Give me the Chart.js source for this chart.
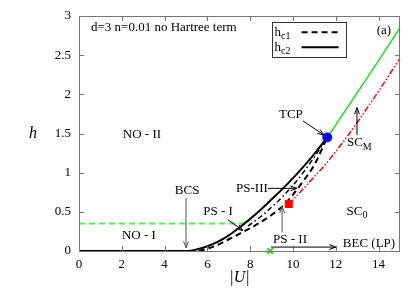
<!DOCTYPE html>
<html>
<head>
<meta charset="utf-8">
<script src="https://cdn.jsdelivr.net/npm/chart.js@4"></script>
<style>
  html, body { margin: 0; padding: 0; background: #fff; }
  #wrap { width: 415px; height: 291px; }
</style>
</head>
<body>
<div id="wrap"><canvas id="phase" width="415" height="291"></canvas></div>
<script>
// tick values
const xTicks = [0, 2, 4, 6, 8, 10, 12, 14];
const yTicks = [0, 0.5, 1, 1.5, 2, 2.5, 3];
const yTickLabels = ['0', '0.5', '1', '1.5', '2', '2.5', '3'];

// hc2 (solid black)
const hc2U = [0, 5.0, 5.5, 6.0, 6.5, 7.0, 7.5, 8.0, 8.5, 9.0, 9.5, 10.0, 10.5, 11.0, 11.6];
const hc2H = [0, 0, 0.02, 0.06, 0.12, 0.2, 0.3, 0.41, 0.53, 0.66, 0.79, 0.93, 1.08, 1.24, 1.45];

// hc1 (dashed black)
const hc1U = [5.6, 6.0, 6.5, 7.0, 7.5, 8.0, 8.5, 9.0, 9.5, 10.0, 10.5, 11.0, 11.6];
const hc1H = [0, 0.03, 0.08, 0.15, 0.22, 0.29, 0.37, 0.46, 0.57, 0.72, 0.9, 1.1, 1.45];

// dash-dot black line between hc1 and hc2
const ddU = [7.9, 8.5, 9.0, 9.5, 10.0, 10.5, 11.0, 11.6];
const ddH = [0.32, 0.44, 0.56, 0.69, 0.84, 1.01, 1.2, 1.45];

// red dash-dot-dot line (SC_M boundary)
const redU = [9.8, 10.5, 11.0, 11.5, 12.0, 12.5, 13.0, 13.5, 14.0, 14.5, 15.0];
const redH = [0.6, 0.8, 0.95, 1.1, 1.27, 1.45, 1.64, 1.84, 2.04, 2.25, 2.46];

// green solid line above TCP
const greenU = [11.6, 12.0, 13.0, 14.0, 15.0];
const greenH = [1.45, 1.61, 2.02, 2.43, 2.85];

// green dashed horizontal
const gDashU = [0, 8.0];
const gDashH = [0.35, 0.35];

// special points
const tcp = [11.6, 1.45];
const redPoint = [9.8, 0.6];
const becPoint = [8.93, 0];

const pts = (xs, ys) => xs.map((x, i) => ({ x: x, y: ys[i] }));

const SERIF = '"Liberation Serif", "DejaVu Serif", serif';
const FS = 13;

// text labels and arrows in data units
const labels = [
  { t: 'd=3 n=0.01 no Hartree term', x: 0.56, y: 2.85, align: 'left' },
  { t: 'NO - II', x: 2.94, y: 1.49 },
  { t: 'NO - I', x: 2.8, y: 0.2 },
  { t: 'BCS', x: 5.05, y: 0.77 },
  { t: 'PS - I', x: 6.5, y: 0.5 },
  { t: 'PS-III', x: 8.08, y: 0.8 },
  { t: 'PS - II', x: 9.86, y: 0.15 },
  { t: 'TCP', x: 9.9, y: 1.74 },
  { t: 'BEC (LP)', x: 13.55, y: 0.09 },
  { t: '(a)', x: 14.25, y: 2.82 }
];
const subLabels = [
  { t: 'SC', s: 'M', x: 13.1, y: 1.38 },
  { t: 'SC', s: '0', x: 12.99, y: 0.5 }
];
const arrows = [
  { x1: 5.0, y1: 0.68, x2: 5.0, y2: 0.04, c: '#555' },
  { x1: 6.96, y1: 0.4, x2: 7.66, y2: 0.26, c: '#000' },
  { x1: 8.83, y1: 0.8, x2: 10.19, y2: 0.8, c: '#000' },
  { x1: 9.49, y1: 0.24, x2: 9.49, y2: 0.57, c: '#555' },
  { x1: 10.47, y1: 1.66, x2: 11.45, y2: 1.48, c: '#000' },
  { x1: 12.99, y1: 1.48, x2: 12.99, y2: 1.83, c: '#000' },
  { x1: 8.97, y1: 0.05, x2: 12.0, y2: 0.05, c: '#000' }
];

function arrow(ctx, x1, y1, x2, y2, color) {
  const a = Math.atan2(y2 - y1, x2 - x1);
  ctx.save();
  ctx.strokeStyle = color;
  ctx.lineWidth = 1;
  ctx.setLineDash([]);
  ctx.beginPath();
  ctx.moveTo(x1, y1);
  ctx.lineTo(x2, y2);
  ctx.moveTo(x2 - 7 * Math.cos(a - 0.35), y2 - 7 * Math.sin(a - 0.35));
  ctx.lineTo(x2, y2);
  ctx.lineTo(x2 - 7 * Math.cos(a + 0.35), y2 - 7 * Math.sin(a + 0.35));
  ctx.stroke();
  ctx.restore();
}

const decorPlugin = {
  id: 'decor',
  afterDatasetsDraw(chart) {
    const ctx = chart.ctx;
    const a = chart.chartArea;
    const xs = chart.scales.x, ys = chart.scales.y;
    ctx.save();

    // frame and inward ticks
    ctx.strokeStyle = '#777';
    ctx.lineWidth = 1;
    ctx.strokeRect(a.left + 0.5, a.top + 0.5, a.right - a.left - 1, a.bottom - a.top);
    ctx.beginPath();
    xTicks.forEach(v => {
      const p = Math.round(xs.getPixelForValue(v)) + 0.5;
      ctx.moveTo(p, a.bottom); ctx.lineTo(p, a.bottom - 5);
      ctx.moveTo(p, a.top); ctx.lineTo(p, a.top + 5);
    });
    yTicks.forEach(v => {
      const p = Math.round(ys.getPixelForValue(v)) + 0.5;
      ctx.moveTo(a.left, p); ctx.lineTo(a.left + 5, p);
      ctx.moveTo(a.right, p); ctx.lineTo(a.right - 5, p);
    });
    ctx.stroke();

    // arrows
    arrows.forEach(r => arrow(ctx, xs.getPixelForValue(r.x1), ys.getPixelForValue(r.y1),
      xs.getPixelForValue(r.x2), ys.getPixelForValue(r.y2), r.c));

    // text
    ctx.fillStyle = '#000';
    ctx.textBaseline = 'middle';
    ctx.font = FS + 'px ' + SERIF;
    labels.forEach(l => {
      ctx.textAlign = l.align || 'center';
      ctx.fillText(l.t, xs.getPixelForValue(l.x), ys.getPixelForValue(l.y));
    });
    subLabels.forEach(l => {
      ctx.font = FS + 'px ' + SERIF;
      const w1 = ctx.measureText(l.t).width;
      ctx.font = '10px ' + SERIF;
      const w2 = ctx.measureText(l.s).width;
      const x0 = xs.getPixelForValue(l.x) - (w1 + w2) / 2;
      const y0 = ys.getPixelForValue(l.y);
      ctx.textAlign = 'left';
      ctx.font = FS + 'px ' + SERIF;
      ctx.fillText(l.t, x0, y0);
      ctx.font = '10px ' + SERIF;
      ctx.fillText(l.s, x0 + w1, y0 + 4);
    });

    // legend box
    const lx = xs.getPixelForValue(9.0), ly = ys.getPixelForValue(2.92);
    const lw = 74, lh = 35;
    ctx.strokeStyle = '#333';
    ctx.lineWidth = 1;
    ctx.setLineDash([]);
    ctx.strokeRect(Math.round(lx) + 0.5, Math.round(ly) + 0.5, lw, lh);
    const rows = [{ s: 'c1', dash: [6, 4], y: ly + 10 }, { s: 'c2', dash: [], y: ly + 25 }];
    rows.forEach(r => {
      ctx.textAlign = 'left';
      ctx.font = FS + 'px ' + SERIF;
      ctx.fillText('h', lx + 3, r.y);
      ctx.font = '10px ' + SERIF;
      ctx.fillText(r.s, lx + 9.5, r.y + 4);
      ctx.strokeStyle = '#000';
      ctx.lineWidth = 2;
      ctx.setLineDash(r.dash);
      ctx.beginPath();
      ctx.moveTo(lx + 30, r.y);
      ctx.lineTo(lx + 67, r.y);
      ctx.stroke();
    });
    ctx.setLineDash([]);

    // axis titles
    ctx.font = 'italic 16px ' + SERIF;
    ctx.textAlign = 'center';
    ctx.fillText('h', 33, (a.top + a.bottom) / 2);
    ctx.fillText('|U|', (a.left + a.right) / 2, 278);
    ctx.restore();
  }
};

new Chart(document.getElementById('phase'), {
  type: 'scatter',
  data: {
    datasets: [
      { data: pts([tcp[0]], [tcp[1]]), pointStyle: 'circle', pointRadius: 4.5,
        backgroundColor: '#0000ff', borderColor: '#0000ff', showLine: false },
      { data: pts([redPoint[0]], [redPoint[1]]), pointStyle: 'rect', pointRadius: 5,
        backgroundColor: '#ff0000', borderColor: '#ff0000', showLine: false },
      { data: pts([becPoint[0]], [becPoint[1]]), pointStyle: 'crossRot', pointRadius: 4,
        borderWidth: 2, borderColor: '#22dd22', showLine: false, clip: 6 },
      { data: pts(hc2U, hc2H), showLine: true, borderColor: '#000', borderWidth: 2,
        pointRadius: 0, cubicInterpolationMode: 'monotone', clip: 4 },
      { data: pts(hc1U, hc1H), showLine: true, borderColor: '#000', borderWidth: 2,
        borderDash: [6, 4], pointRadius: 0, cubicInterpolationMode: 'monotone' },
      { data: pts(ddU, ddH), showLine: true, borderColor: '#000', borderWidth: 1.5,
        borderDash: [5, 3, 1.5, 3], pointRadius: 0, cubicInterpolationMode: 'monotone' },
      { data: pts(redU, redH), showLine: true, borderColor: '#ff0000', borderWidth: 1.5,
        borderDash: [6, 2, 1.5, 2, 1.5, 2], pointRadius: 0, cubicInterpolationMode: 'monotone' },
      { data: pts(greenU, greenH), showLine: true, borderColor: '#22dd22', borderWidth: 1.5,
        pointRadius: 0, cubicInterpolationMode: 'monotone' },
      { data: pts(gDashU, gDashH), showLine: true, borderColor: '#55ee55', borderWidth: 2,
        borderDash: [6, 4], pointRadius: 0 }
    ]
  },
  options: {
    responsive: false,
    animation: false,
    events: [],
    layout: { padding: { top: 16, right: 15, left: 0, bottom: 0 } },
    plugins: { legend: { display: false }, tooltip: { enabled: false } },
    scales: {
      x: {
        type: 'linear', min: 0, max: 15,
        afterBuildTicks: s => { s.ticks = xTicks.map(v => ({ value: v })); },
        afterFit: s => { s.height = 40; },
        grid: { display: false, drawTicks: false },
        border: { display: false },
        ticks: { color: '#000', padding: 6, font: { family: SERIF, size: FS } }
      },
      y: {
        type: 'linear', min: 0, max: 3,
        afterBuildTicks: s => { s.ticks = yTicks.map(v => ({ value: v })); },
        afterFit: s => { s.width = 79; },
        grid: { display: false, drawTicks: false },
        border: { display: false },
        ticks: {
          color: '#000', padding: 8, font: { family: SERIF, size: FS },
          callback: (v) => yTickLabels[yTicks.indexOf(v)]
        }
      }
    }
  },
  plugins: [decorPlugin]
});
</script>
</body>
</html>
